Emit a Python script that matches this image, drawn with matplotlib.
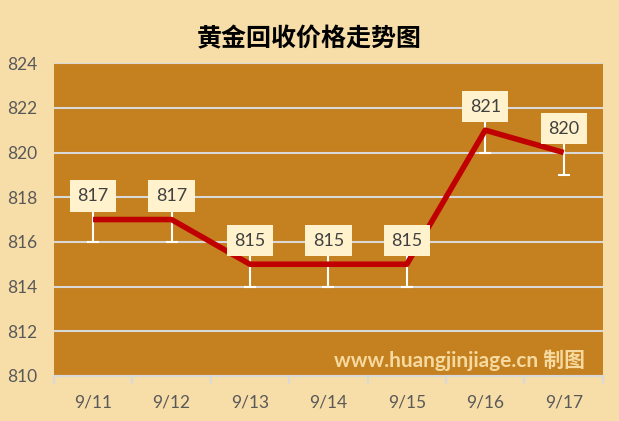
import numpy as np
import matplotlib.pyplot as plt

dates = ["9/11", "9/12", "9/13", "9/14", "9/15", "9/16", "9/17"]
prices = [817, 817, 815, 815, 815, 821, 820]
err_down = [1, 1, 1, 1, 1, 1, 1]
err_up = [1, 1, 1, 1, 1, 1, 1]

plt.rcParams['font.family'] = ['Lato', 'Noto Sans CJK SC', 'DejaVu Sans']

fig = plt.figure(figsize=(6.19, 4.21), dpi=100)
fig.patch.set_facecolor("#F7DEA8")
ax = fig.add_axes([0.087, 0.107, 0.887, 0.743])
ax.set_facecolor("#C5801F")

x = np.arange(len(dates))
ax.errorbar(x, prices, yerr=[err_down, err_up], fmt="none", ecolor="white",
            elinewidth=1.5, capsize=4, capthick=1.5, zorder=3)
ax.plot(x, prices, color="#C00000", linewidth=4, zorder=4, solid_capstyle="butt")

# value labels sit on top of the upper error bar
for xi, p in zip(x, prices):
    ax.annotate(str(p), (xi, p), xytext=(0, 17), textcoords="offset points",
                ha="center", va="center", fontsize=13, color="#404040",
                bbox=dict(boxstyle="square,pad=0.42", fc="#FFF2CC", ec="none"),
                zorder=5)

ax.set_xlim(-0.5, len(dates) - 0.5)
ax.set_ylim(810, 824)
ax.set_yticks(np.arange(810, 825, 2))
ax.yaxis.grid(True, color="#D9D9D9", linewidth=1.5)
ax.set_axisbelow(True)

ax.set_xticks(x)
ax.set_xticklabels(dates)
ax.set_xticks(np.arange(-0.5, len(dates), 1), minor=True)
ax.tick_params(axis="x", which="major", length=0, pad=13, labelsize=12.5, labelcolor="#595959")
ax.tick_params(axis="x", which="minor", length=6, width=1.5, color="#D9D9D9")
ax.tick_params(axis="y", length=0, pad=12, labelsize=12.5, labelcolor="#595959")

for side in ["top", "right", "left"]:
    ax.spines[side].set_visible(False)
ax.spines["bottom"].set_color("#D9D9D9")
ax.spines["bottom"].set_linewidth(1.5)

fig.text(0.5, 0.907, "黄金回收价格走势图", ha="center", va="center",
         fontsize=18, fontweight="bold", color="black", family=["Noto Sans CJK SC"])
ax.text(0.967, 0.05, "www.huangjinjiage.cn 制图", transform=ax.transAxes,
        ha="right", va="center", fontsize=15, fontweight="bold", color="#F5D99E")

fig.savefig("out.png", dpi=100, facecolor=fig.get_facecolor())
